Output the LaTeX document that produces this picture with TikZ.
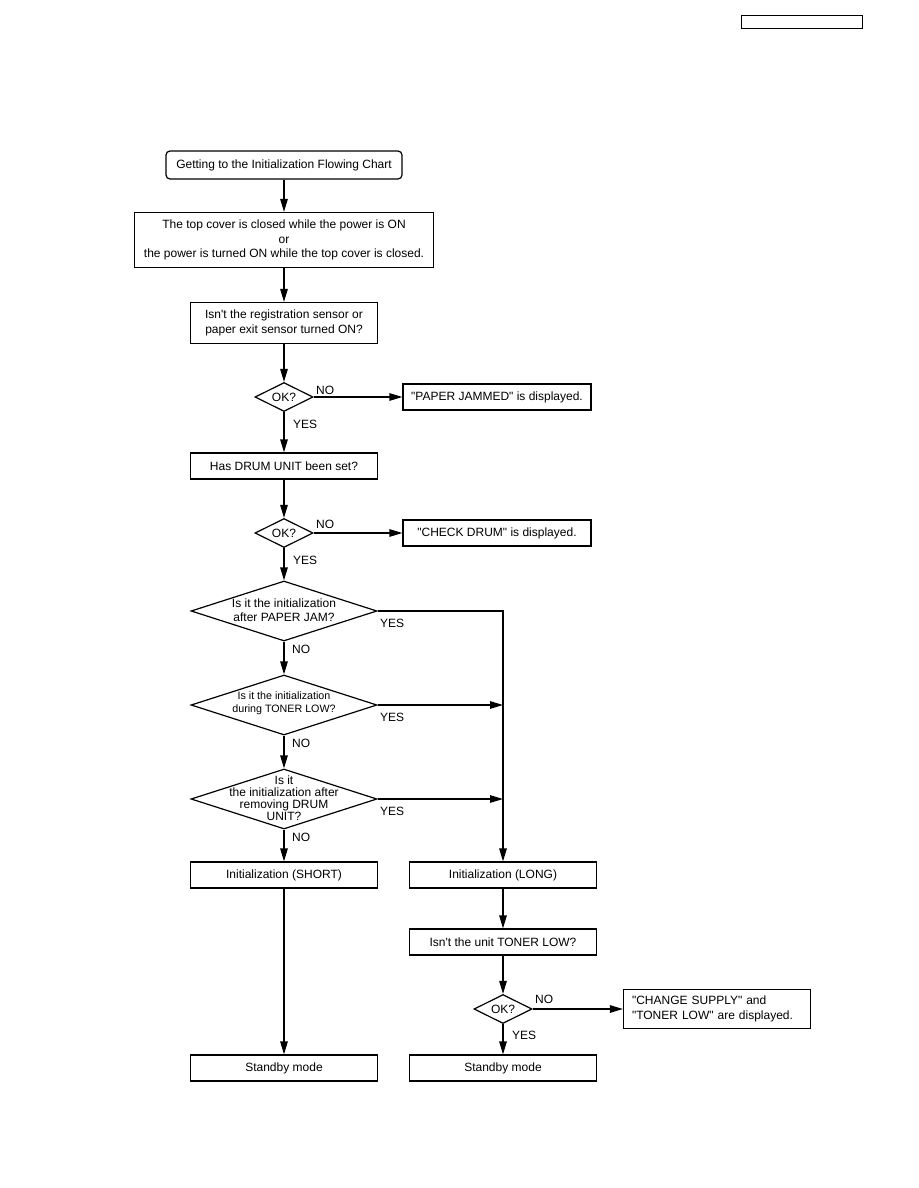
\documentclass[tikz,border=0pt]{standalone}
\usepackage{fontspec}
\setmainfont{Liberation Sans}
\usetikzlibrary{shapes.geometric,arrows.meta}
\newcommand{\fsn}{\fontsize{12}{14.5}\selectfont}
\newcommand{\qq}{\textquotedbl}
\newcommand{\ap}{\textquotesingle}
\begin{document}
\begin{tikzpicture}[x=1pt,y=-1pt,
  box/.style={draw, line width=1.2pt, rectangle, inner sep=0pt, align=center, font=\fsn},
  dia/.style={draw, line width=1.2pt, diamond, inner sep=0pt},
  dtext/.style={align=center, inner sep=0pt, font=\fsn},
  lab/.style={anchor=west, inner sep=0pt, font=\fsn},
  arr/.style={line width=1.2pt, -{Triangle[length=13pt,width=7.5pt]}},
  ln/.style={line width=1.2pt}]
\useasboundingbox (0,0) rectangle (918,1188);
\node[draw, line width=0.8pt, minimum width=121pt, minimum height=13pt, inner sep=0pt] (hdr) at (801.5,21.5) {};
\node[box, rounded corners=4pt, minimum width=236pt, minimum height=28pt] (start) at (284,165) {Getting to the Initialization Flowing Chart};
\node[box, minimum width=299pt, minimum height=55pt] (b2) at (284,240) {The top cover is closed while the power is ON\\or\\the power is turned ON while the top cover is closed.};
\node[box, minimum width=187pt, minimum height=41pt] (b3) at (284,323) {Isn\ap t the registration sensor or\\paper exit sensor turned ON?};
\node[dia, minimum width=58pt, minimum height=29pt] (d1) at (284,397) {};
\node[dtext] (d1t) at (d1) {OK?};
\node[box, minimum width=188pt, minimum height=26pt] (pj) at (497,397) {\qq PAPER JAMMED\qq\ is displayed.};
\node[box, minimum width=187pt, minimum height=26pt] (b4) at (284,466) {Has DRUM UNIT been set?};
\node[dia, minimum width=58pt, minimum height=29pt] (d2) at (284,533) {};
\node[dtext] (d2t) at (d2) {OK?};
\node[box, minimum width=188pt, minimum height=26pt] (cd) at (497,533) {\qq CHECK DRUM\qq\ is displayed.};
\node[dia, minimum width=186pt, minimum height=60pt] (d3) at (284,611) {};
\node[dtext] (d3t) at (284,610) {Is it the initialization\\after PAPER JAM?};
\node[dia, minimum width=186pt, minimum height=60pt] (d4) at (284,705) {};
\node[dtext, font=\fontsize{10.7}{13}\selectfont] (d4t) at (284,703.5) {Is it the initialization\\during TONER LOW?};
\node[dia, minimum width=186pt, minimum height=60pt] (d5) at (284,799) {};
\node[dtext, font=\fontsize{12}{12}\selectfont] (d5t) at (284,798.5) {Is it\\the initialization after\\removing DRUM\\UNIT?};
\node[box, minimum width=187pt, minimum height=26pt] (short) at (284,875) {Initialization (SHORT)};
\node[box, minimum width=187pt, minimum height=26pt] (long) at (503,875) {Initialization (LONG)};
\node[box, minimum width=187pt, minimum height=26pt] (tl) at (503,942) {Isn\ap t the unit TONER LOW?};
\node[dia, minimum width=58pt, minimum height=29pt] (d6) at (503,1009) {};
\node[dtext] (d6t) at (d6) {OK?};
\node[box, minimum width=187pt, minimum height=39pt, align=left, text width=170pt] (cs) at (717,1009) {\qq CHANGE SUPPLY\qq\ and\\\qq TONER LOW\qq\ are displayed.};
\node[box, minimum width=187pt, minimum height=26pt] (sb1) at (284,1068) {Standby mode};
\node[box, minimum width=187pt, minimum height=26pt] (sb2) at (503,1068) {Standby mode};
\coordinate (j4) at (503,705);
\coordinate (j5) at (503,799);
% labels
\node[lab] (n1) at (316,390) {NO};
\node[lab] (y1) at (293,424) {YES};
\node[lab] (n2) at (316,524) {NO};
\node[lab] (y2) at (293,560) {YES};
\node[lab] (y3) at (380,623) {YES};
\node[lab] (n3) at (292,649) {NO};
\node[lab] (y4) at (380,717) {YES};
\node[lab] (n4) at (292,743) {NO};
\node[lab] (y5) at (380,811) {YES};
\node[lab] (n5) at (292,837) {NO};
\node[lab] (n6) at (535,999) {NO};
\node[lab] (y6) at (512,1035) {YES};
% connectors
\draw[arr] (start) -- (b2);
\draw[arr] (b2) -- (b3);
\draw[arr] (b3) -- (d1);
\draw[arr] (d1.east) -- (pj.west);
\draw[arr] (d1) -- (b4);
\draw[arr] (b4) -- (d2);
\draw[arr] (d2.east) -- (cd.west);
\draw[arr] (d2) -- (d3);
\draw[arr] (d3) -- (d4);
\draw[arr] (d4) -- (d5);
\draw[arr] (d5) -- (short);
\draw[arr] (d3.east) -| (long.north);
\draw[arr] (d4.east) -- (j4);
\draw[arr] (d5.east) -- (j5);
\draw[arr] (short) -- (sb1);
\draw[arr] (long) -- (tl);
\draw[arr] (tl) -- (d6);
\draw[arr] (d6.east) -- (cs.west);
\draw[arr] (d6) -- (sb2);
\end{tikzpicture}
\end{document}
